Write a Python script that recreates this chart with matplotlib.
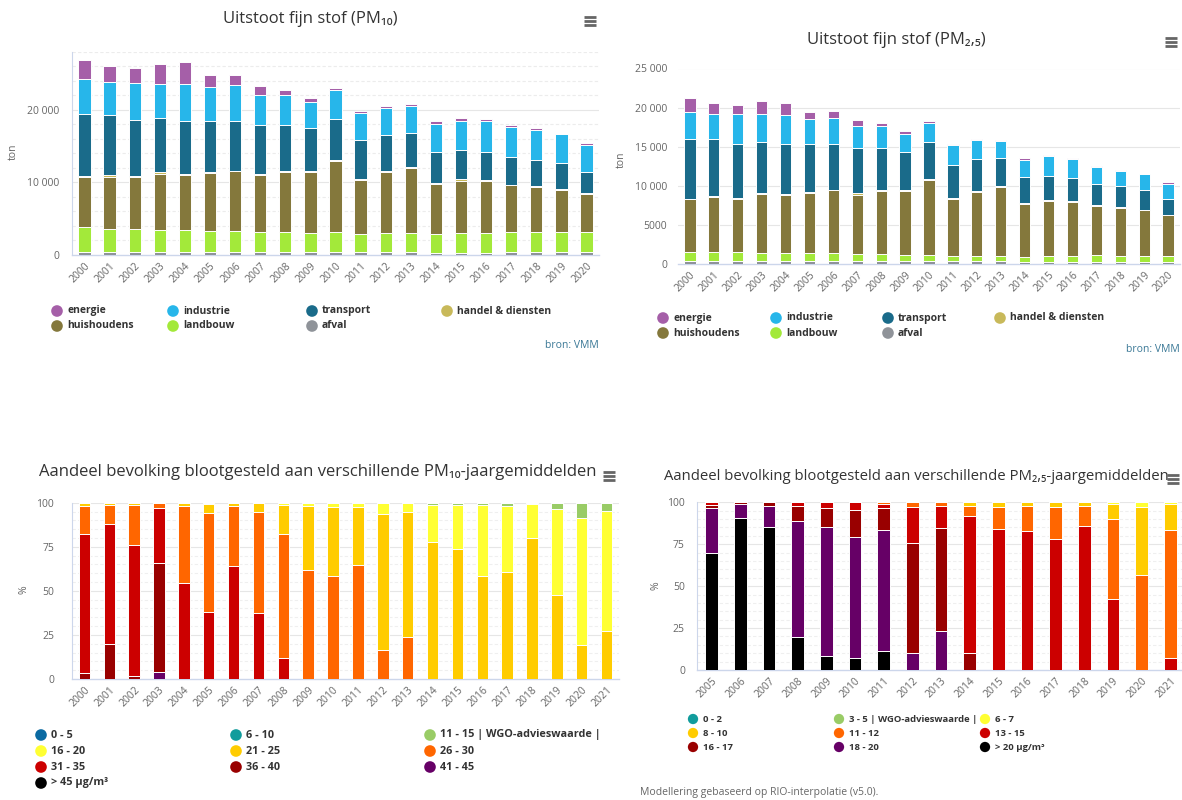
import matplotlib
matplotlib.use("Agg")
import matplotlib.pyplot as plt
import numpy as np

plt.rcParams['font.family'] = ['Open Sans', 'DejaVu Sans']

# ---------------------------------------------------------------- data
years_em = [str(y) for y in range(2000, 2021)]

# PM10 emissions per sector (ton)
pm10_afval = [400] * 14 + [300, 300, 300, 400, 400, 400, 400]
pm10_landbouw = [3460, 3230, 3230, 3100, 3100, 2960, 2960, 2770, 2770, 2630, 2770,
                 2500, 2630, 2630, 2600, 2730, 2730, 2770, 2770, 2770, 2770]
pm10_huishoudens = [6810, 7170, 7040, 7670, 7500, 7940, 8180, 7830, 8230, 8370, 9800,
                    7440, 8420, 8970, 6850, 7220, 7170, 6430, 6210, 5830, 5240]
pm10_handel = [180, 200, 180, 280, 200, 100, 60, 200, 100, 100, 80,
               100, 90, 140, 140, 150, 100, 100, 90, 100, 90]
pm10_transport = [8510, 8260, 7680, 7350, 7300, 7000, 6900, 6700, 6400, 6000, 5710,
                  5330, 5010, 4640, 4310, 4040, 3900, 3800, 3630, 3540, 2950]
pm10_industrie = [4840, 4540, 5170, 4800, 5100, 4700, 4900, 4170, 4170, 3500, 3910,
                  3730, 3730, 3720, 3900, 4060, 4200, 4060, 4140, 3960, 3720]
pm10_energie = [2700, 2200, 2000, 2700, 2900, 1700, 1400, 1230, 690, 600, 330,
                270, 180, 280, 300, 400, 270, 340, 230, 50, 190]

# PM2.5 emissions per sector (ton)
pm25_afval = [470] * 11 + [450] * 3 + [350] * 7
pm25_landbouw = [1100, 1100, 1100, 980, 980, 980, 980, 850, 850, 760, 760,
                 570, 650, 570, 590, 670, 670, 800, 670, 670, 670]
pm25_huishoudens = [6730, 7030, 6810, 7550, 7450, 7650, 8000, 7580, 7980, 8070, 9570,
                    7320, 8180, 8850, 6760, 7060, 6940, 6250, 6130, 5870, 5240]
pm25_handel = [80, 80, 90, 150, 80, 100, 50, 160, 150, 150, 140,
               130, 80, 90, 90, 90, 80, 130, 130, 90, 80]
pm25_transport = [7620, 7320, 6890, 6420, 6380, 6100, 5860, 5740, 5350, 4850, 4630,
                  4230, 4040, 3640, 3360, 3110, 2960, 2770, 2680, 2550, 2000]
pm25_industrie = [3400, 3200, 3840, 3630, 3640, 3300, 3340, 2800, 2800, 2300, 2530,
                  2530, 2470, 2100, 2210, 2550, 2450, 2130, 1910, 1960, 1920]
pm25_energie = [1800, 1350, 1200, 1600, 1550, 900, 900, 870, 400, 400, 200,
                130, 130, 170, 210, 130, 120, 120, 130, 30, 210]

sectors = ["energie", "industrie", "transport", "handel & diensten",
           "huishoudens", "landbouw", "afval"]
sector_colors = ["#a55fa8", "#27b6ea", "#1a6b8a", "#c8b95a",
                 "#84783c", "#a3e93a", "#8f9399"]

# Share of population per PM10 annual-mean class (%), 2000-2021
years_pm10 = [str(y) for y in range(2000, 2022)]
pm10_classes = ["0 - 5", "6 - 10", "11 - 15 | WGO-advieswaarde |", "16 - 20",
                "21 - 25", "26 - 30", "31 - 35", "36 - 40", "41 - 45", "> 45 µg/m³"]
pm10_class_colors = ["#0b6aa2", "#119c9c", "#99cc66", "#ffff33", "#ffcc00",
                     "#ff6600", "#cc0000", "#990000", "#660066", "#000000"]
exp10_0_5 = [0] * 22
exp10_6_10 = [0] * 22
exp10_11_15 = [0] * 14 + [1.5, 1.5, 1.5, 2.1, 0.9, 3.8, 8.9, 4.9]
exp10_16_20 = [0, 0, 0, 0, 0, 1.0, 0, 0, 1.1, 1.9, 2.3, 2.3, 6.6, 5.5,
               20.6, 25.0, 40.1, 37.4, 19.3, 48.8, 71.8, 67.9]
exp10_21_25 = [1.7, 1.1, 1.5, 0, 1.9, 5.0, 1.9, 5.5, 16.9, 36.3, 39.3, 33.2, 77.1, 70.9,
               77.9, 73.5, 58.4, 60.5, 79.8, 47.4, 19.3, 27.2]
exp10_26_30 = [16.3, 11.0, 22.5, 3.0, 43.8, 56.0, 34.0, 57.1, 70.1, 61.8, 58.4, 64.5,
               16.3, 23.6] + [0] * 8
exp10_31_35 = [78.4, 68.1, 74.5, 31.4, 54.3, 38.0, 64.1, 37.4, 11.9] + [0] * 13
exp10_36_40 = [3.6, 19.8, 1.5, 61.6] + [0] * 18
exp10_41_45 = [0, 0, 0, 4.0] + [0] * 18
exp10_gt45 = [0] * 22

# Share of population per PM2.5 annual-mean class (%), 2005-2021
years_pm25 = [str(y) for y in range(2005, 2022)]
pm25_classes = ["0 - 2", "3 - 5 | WGO-advieswaarde |", "6 - 7", "8 - 10", "11 - 12",
                "13 - 15", "16 - 17", "18 - 20", "> 20 µg/m³"]
pm25_class_colors = ["#119c9c", "#99cc66", "#ffff33", "#ffcc00", "#ff6600",
                     "#cc0000", "#990000", "#660066", "#000000"]
exp25_0_2 = [0] * 17
exp25_3_5 = [0] * 17
exp25_6_7 = [0] * 14 + [1.2, 2.8, 1.2]
exp25_8_10 = [0] * 9 + [2.2, 2.6, 2.2, 2.8, 2.0, 8.5, 40.5, 15.1]
exp25_11_12 = [0] * 6 + [1.2, 2.6, 2.0, 6.2, 13.5, 14.9, 19.3, 11.9, 47.8, 56.7, 76.5]
exp25_13_15 = [1.6, 0, 0, 2.0, 3.2, 4.6, 2.4, 21.9, 13.1, 81.7, 83.9, 82.9, 77.9, 86.1,
               42.5, 0, 7.2]
exp25_16_17 = [1.6, 1.2, 2.2, 9.1, 11.3, 16.3, 12.9, 65.6, 61.4, 9.9] + [0] * 7
exp25_18_20 = [26.8, 8.3, 12.7, 69.0, 77.2, 72.1, 72.0, 9.9, 23.5] + [0] * 8
exp25_gt20 = [70.0, 90.5, 85.1, 19.9, 8.3, 7.0, 11.5] + [0] * 10

# ---------------------------------------------------------------- figure
W, H = 1182, 800
fig = plt.figure(figsize=(W / 100, H / 100), dpi=100)

TXT = "#333333"
TICK = "#666666"
AXIS = "#ccd6eb"
GRID = "#e6e6e6"


def add_ax(x0, y0, x1, y1):
    return fig.add_axes([x0 / W, 1 - y1 / H, (x1 - x0) / W, (y1 - y0) / H])


def fmt(v):
    v = int(round(v))
    if v >= 10000:
        return f"{v:,}".replace(",", " ")
    return str(v)


def style_axes(ax, left_spine=True, ypad=8):
    for s in ("top", "right"):
        ax.spines[s].set_visible(False)
    ax.spines["bottom"].set_color(AXIS)
    ax.spines["bottom"].set_linewidth(1)
    ax.spines["left"].set_visible(left_spine)
    ax.spines["left"].set_color(AXIS)
    ax.tick_params(axis="both", length=0, colors=TICK, labelsize=7.5)
    ax.tick_params(axis="y", pad=ypad)
    ax.tick_params(axis="x", pad=4)
    ax.set_axisbelow(True)


def stacked(ax, cats, layers, colors, width):
    x = np.arange(len(cats))
    bottom = np.zeros(len(cats))
    for vals, c in zip(layers, colors):
        v = np.asarray(vals, dtype=float)
        ax.bar(x, v, width, bottom=bottom, color=c, edgecolor="white",
               linewidth=0.7, zorder=3)
        bottom += v
    ax.set_xticks(x)
    ax.set_xticklabels(cats, rotation=45, ha="right", va="top",
                       rotation_mode="anchor")
    return x


def hgrid(ax, values, style="-", color=GRID, lw=0.8):
    for v in values:
        ax.axhline(v, color=color, lw=lw, ls=style, zorder=0)


# --- PM10 emissions
ax1 = add_ax(72, 51.6, 599, 255)
stacked(ax1, years_em,
        [pm10_afval, pm10_landbouw, pm10_huishoudens, pm10_handel,
         pm10_transport, pm10_industrie, pm10_energie],
        sector_colors[::-1], 0.49)
ax1.set_xlim(-0.5, 20.5)
ax1.set_ylim(0, 28000)
ax1.set_yticks([0, 10000, 20000])
ax1.set_yticklabels([fmt(v) for v in [0, 10000, 20000]])
hgrid(ax1, [10000, 20000])
hgrid(ax1, [v for v in range(2000, 28001, 2000) if v % 10000], style=(0, (3, 2)),
      color="#ececec")
style_axes(ax1, True, ypad=9)

# --- PM2.5 emissions
ax2 = add_ax(678, 68.5, 1180, 264.3)
stacked(ax2, years_em,
        [pm25_afval, pm25_landbouw, pm25_huishoudens, pm25_handel,
         pm25_transport, pm25_industrie, pm25_energie],
        sector_colors[::-1], 0.47)
ax2.set_xlim(-0.5, 20.5)
ax2.set_ylim(0, 25000)
yt2 = [0, 5000, 10000, 15000, 20000, 25000]
ax2.set_yticks(yt2)
ax2.set_yticklabels([fmt(v) for v in yt2])
hgrid(ax2, yt2[1:])
style_axes(ax2, False, ypad=8)

# --- PM10 exposure
ax3 = add_ax(72, 502.7, 619, 679)
stacked(ax3, years_pm10,
        [exp10_gt45, exp10_41_45, exp10_36_40, exp10_31_35, exp10_26_30,
         exp10_21_25, exp10_16_20, exp10_11_15, exp10_6_10, exp10_0_5],
        pm10_class_colors[::-1], 0.46)
ax3.set_xlim(-0.5, 21.5)
ax3.set_ylim(0, 100)
ax3.set_yticks([0, 25, 50, 75, 100])
hgrid(ax3, [25, 50, 75, 100])
hgrid(ax3, [v for v in range(5, 100, 5) if v % 25], style=(0, (3, 2)), color="#efefef")
style_axes(ax3, True, ypad=13)

# --- PM2.5 exposure
ax4 = add_ax(697.4, 502.3, 1182, 670)
stacked(ax4, years_pm25,
        [exp25_gt20, exp25_18_20, exp25_16_17, exp25_13_15, exp25_11_12,
         exp25_8_10, exp25_6_7, exp25_3_5, exp25_0_2],
        pm25_class_colors[::-1], 0.44)
ax4.set_xlim(-0.5, (1182 - 697.4) / 28.66 - 0.5)
ax4.set_ylim(0, 100)
ax4.set_yticks([0, 25, 50, 75, 100])
hgrid(ax4, [25, 50, 75, 100])
hgrid(ax4, [v for v in range(5, 100, 5) if v % 25], style=(0, (3, 2)), color="#efefef")
style_axes(ax4, True, ypad=9)

# ---------------------------------------------------------------- overlay (pixel coords)
ov = fig.add_axes([0, 0, 1, 1], zorder=10)
ov.set_xlim(0, W)
ov.set_ylim(H, 0)
ov.axis("off")
ov.patch.set_alpha(0)

# titles
ov.text(310, 19, "Uitstoot fijn stof (PM₁₀)", ha="center", va="center",
        fontsize=12, color=TXT)
ov.text(896, 40, "Uitstoot fijn stof (PM₂,₅)", ha="center", va="center",
        fontsize=12, color=TXT)
ov.text(318, 472, "Aandeel bevolking blootgesteld aan verschillende PM₁₀-jaargemiddelden",
        ha="center", va="center", fontsize=12, color=TXT)
ov.text(916, 476, "Aandeel bevolking blootgesteld aan verschillende PM₂,₅-jaargemiddelden",
        ha="center", va="center", fontsize=10.7, color=TXT)

# axis titles
ov.text(13, 152, "ton", rotation=90, ha="center", va="center", fontsize=7.5, color=TICK)
ov.text(621, 160, "ton", rotation=90, ha="center", va="center", fontsize=7.5, color=TICK)
ov.text(24, 590, "%", rotation=90, ha="center", va="center", fontsize=7.5, color=TICK)
ov.text(656, 586, "%", rotation=90, ha="center", va="center", fontsize=7.5, color=TICK)


def menu_icon(cx, cy):
    for dy in (-4, 0, 4):
        ov.plot([cx - 6, cx + 6], [cy + dy, cy + dy], color="#666666", lw=2,
                solid_capstyle="butt")


menu_icon(590, 21)
menu_icon(1171, 42)
menu_icon(609, 476)
menu_icon(1173, 479)


def legend(labels, colors, xs, ys, ncol, fs=7.8, s=70):
    for i, (lab, col) in enumerate(zip(labels, colors)):
        r, c = divmod(i, ncol)
        ov.scatter([xs[c]], [ys[r]], s=s, color=col, edgecolor="none")
        ov.text(xs[c] + 10, ys[r], lab, ha="left", va="center", fontsize=fs,
                fontweight="bold", color=TXT)


legend(sectors, sector_colors, [57, 173, 312, 447], [311, 326], 4, fs=7.5)
legend(sectors, sector_colors, [663, 776, 888, 1000], [318, 333], 4, fs=7.5)
legend(pm10_classes, pm10_class_colors, [41, 236, 430], [735, 751, 767, 783], 3)
legend(pm25_classes, pm25_class_colors, [693, 839, 985], [719, 733, 747], 3,
       fs=6.8, s=55)

ov.text(599, 345, "bron: VMM", ha="right", va="center", fontsize=7.5, color="#3a7896")
ov.text(1180, 350, "bron: VMM", ha="right", va="center", fontsize=7.5, color="#3a7896")
ov.text(640, 793, "Modellering gebaseerd op RIO-interpolatie (v5.0).", ha="left",
        va="center", fontsize=7.5, color="#666666")

fig.savefig("out.png", dpi=100)
